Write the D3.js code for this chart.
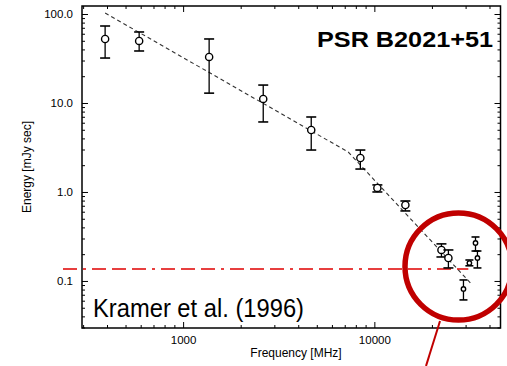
<!DOCTYPE html>
<html><head><meta charset="utf-8">
<script src="https://cdn.jsdelivr.net/npm/d3@7"></script>
<style>body{margin:0;background:#fff;}svg{display:block;font-family:"Liberation Sans",Arial,sans-serif;}</style>
</head><body><svg id="c" width="507" height="366"></svg>
<script>
// Data
const freq   = [391, 589, 1368, 2624, 4677, 8450, 10370, 14530, 22430, 24390, 29240, 33800, 34600, 31400];
const energy = [52.4, 49.8, 32.9, 11.1, 4.97, 2.41, 1.11, 0.714, 0.223, 0.181, 0.0813, 0.267, 0.181, 0.159];
const errHi  = [73.3, 62.8, 52.4, 15.9, 6.96, 2.96, 1.20, 0.792, 0.261, 0.223, 0.1026, 0.312, 0.217, 0.172];
const errLo  = [32.0, 38.4, 12.9, 6.12, 2.96, 1.81, 1.00, 0.612, 0.186, 0.140, 0.0612, 0.217, 0.140, 0.148];
const small  = [false,false,false,false,false,false,false,false,false,false,true,true,true,true];
const fitFreq = [391, 7300, 31800];
const fitEnergy = [102.6, 2.81, 0.095];
const limitEnergy = 0.136;
const limitFreq = [220, 31000];
const xMajor = [1000, 10000];
const yMajor = [0.1, 1, 10, 100];
const yLabels = ["0.1", "1.0", "10.0", "100.0"];
const title = "PSR B2021+51";
const ref = "Kramer et al. (1996)";

const svg = d3.select("#c");
const L = 82, R = 500.5, T = 6, B = 328;
const x = d3.scaleLog().domain([296, 45670]).range([L, R]);
const y = d3.scaleLog().domain([0.0296, 123]).range([B, T]);

// minor ticks
const xMinor = [], yMinor = [];
[100, 1000, 10000].forEach(d => { for (let k = 2; k <= 9; k++) { const v = d * k; if (v > 296 && v < 45670) xMinor.push(v); } });
[0.01, 0.1, 1, 10, 100].forEach(d => { for (let k = 2; k <= 9; k++) { const v = d * k; if (v > 0.0296 && v < 123) yMinor.push(v); } });

function styleAxis(g) { g.select(".domain").remove(); g.selectAll("line").attr("stroke", "#000").attr("stroke-width", 1); g.selectAll("text").attr("fill","#000"); }

// Left
svg.append("g").attr("transform", `translate(${L},0)`)
  .call(d3.axisLeft(y).tickValues(yMajor).tickSize(-6).tickPadding(9).tickFormat((d,i)=>yLabels[i]))
  .call(styleAxis).selectAll("text").attr("font-size", 11.5).attr("font-family","Liberation Sans, Arial, sans-serif");
svg.append("g").attr("transform", `translate(${L},0)`)
  .call(d3.axisLeft(y).tickValues(yMinor).tickSize(-3).tickFormat("")).call(styleAxis);
// Right
svg.append("g").attr("transform", `translate(${R},0)`)
  .call(d3.axisRight(y).tickValues(yMajor).tickSize(-6).tickFormat("")).call(styleAxis);
svg.append("g").attr("transform", `translate(${R},0)`)
  .call(d3.axisRight(y).tickValues(yMinor).tickSize(-3).tickFormat("")).call(styleAxis);
// Bottom
svg.append("g").attr("transform", `translate(0,${B})`)
  .call(d3.axisBottom(x).tickValues(xMajor).tickSize(-6).tickPadding(8).tickFormat(d3.format("d")))
  .call(styleAxis).selectAll("text").attr("font-size", 11.5).attr("font-family","Liberation Sans, Arial, sans-serif");
svg.append("g").attr("transform", `translate(0,${B})`)
  .call(d3.axisBottom(x).tickValues(xMinor).tickSize(-3).tickFormat("")).call(styleAxis);
// Top
svg.append("g").attr("transform", `translate(0,${T})`)
  .call(d3.axisTop(x).tickValues(xMajor).tickSize(-6).tickFormat("")).call(styleAxis);
svg.append("g").attr("transform", `translate(0,${T})`)
  .call(d3.axisTop(x).tickValues(xMinor).tickSize(-3).tickFormat("")).call(styleAxis);

// frame
svg.append("rect").attr("x", L).attr("y", T).attr("width", R - L).attr("height", B - T)
  .attr("fill", "none").attr("stroke", "#000").attr("stroke-width", 1.5);

// axis labels
svg.append("text").attr("x", 296).attr("y", 357).attr("text-anchor", "middle").attr("font-size", 12).text("Frequency [MHz]");
svg.append("text").attr("transform", "translate(31,167) rotate(-90)").attr("text-anchor", "middle").attr("font-size", 12).text("Energy [mJy sec]");

// fit line
const line = d3.line().x((d,i)=>x(fitFreq[i])).y((d,i)=>y(fitEnergy[i]));
svg.append("path").attr("d", line(fitFreq)).attr("fill","none").attr("stroke","#333").attr("stroke-width",1.1).attr("stroke-dasharray","4,3");

// limit line
svg.append("line").attr("x1", 63).attr("x2", x(limitFreq[1])).attr("y1", y(limitEnergy)).attr("y2", y(limitEnergy))
  .attr("stroke", "#e00000").attr("stroke-width", 1.5).attr("stroke-dasharray", "14,6,3,6,14,6,14,6");

// error bars
const gp = svg.append("g");
freq.forEach((f,i)=>{
  const cx = x(f), w = small[i] ? 4 : 5;
  gp.append("line").attr("x1",cx).attr("x2",cx).attr("y1",y(errHi[i])).attr("y2",y(errLo[i])).attr("stroke","#000").attr("stroke-width",1.3);
  [errHi[i], errLo[i]].forEach(v=>gp.append("line").attr("x1",cx-w).attr("x2",cx+w).attr("y1",y(v)).attr("y2",y(v)).attr("stroke","#000").attr("stroke-width",1.6));
  gp.append("circle").attr("cx",cx).attr("cy",y(energy[i])).attr("r", small[i]?2.2:3.6).attr("fill","#fff").attr("stroke","#000").attr("stroke-width",1.4);
});

// texts
svg.append("text").attr("x", 493).attr("y", 47).attr("text-anchor","end").attr("font-size", 22).attr("font-weight","bold")
  .attr("textLength", 176).attr("lengthAdjust","spacingAndGlyphs").text(title);
svg.append("text").attr("x", 93).attr("y", 317).attr("font-size", 26)
  .attr("textLength", 211).attr("lengthAdjust","spacingAndGlyphs").text(ref);

// red circle annotation
svg.append("circle").attr("cx", 458.5).attr("cy", 266.5).attr("r", 53.5).attr("fill","none").attr("stroke","#c00000").attr("stroke-width",5.5);
svg.append("line").attr("x1", 440).attr("y1", 321).attr("x2", 426).attr("y2", 366).attr("stroke","#c00000").attr("stroke-width",2);
</script></body></html>
